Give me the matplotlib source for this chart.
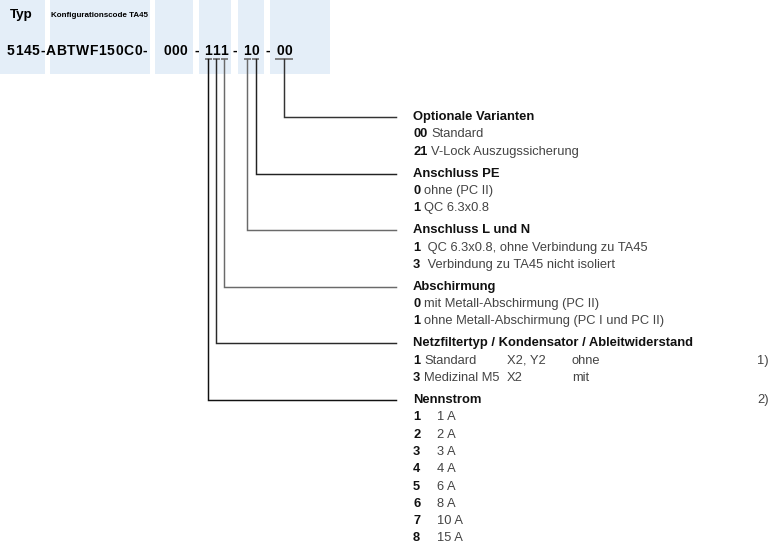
import matplotlib
matplotlib.use("Agg")
import matplotlib.pyplot as plt
from matplotlib.patches import Rectangle

plt.rcParams['font.family'] = ['Liberation Sans', 'DejaVu Sans']

# ---- content ----
type_label = "Typ"
code_label = "Konfigurationscode TA45"
code_prefix = "5145-ABTWF150C0-"
code_groups = ["000", "111", "10", "00"]

headings = [
    "Optionale Varianten",
    "Anschluss PE",
    "Anschluss L und N",
    "Abschirmung",
    "Netzfiltertyp / Kondensator / Ableitwiderstand",
    "Nennstrom",
]
items = [
    [("00", "Standard"), ("21", "V-Lock Auszugssicherung")],
    [("0", "ohne (PC II)"), ("1", "QC 6.3x0.8")],
    [("1", " QC 6.3x0.8, ohne Verbindung zu TA45"), ("3", " Verbindung zu TA45 nicht isoliert")],
    [("0", "mit Metall-Abschirmung (PC II)"), ("1", "ohne Metall-Abschirmung (PC I und PC II)")],
    [("1", "Standard"), ("3", "Medizinal M5")],
    [("1", "1 A"), ("2", "2 A"), ("3", "3 A"), ("4", "4 A"),
     ("5", "6 A"), ("6", "8 A"), ("7", "10 A"), ("8", "15 A")],
]
filter_cap = ["X2, Y2", "X2"]
filter_res = ["ohne", "mit"]
notes = {4: "1)", 5: "2)"}

# which code position each heading points at (group index, digit index / None = whole group)
leader_target = [(3, None), (2, 1), (2, 0), (1, 2), (1, 1), (1, 0)]
leader_colors = ['#333333', '#222222', '#6a6a6a', '#6a6a6a', '#2a2a2a', '#111111']

# ---- layout ----
W, H = 776, 546
fig = plt.figure(figsize=(W / 100, H / 100), dpi=100)
ax = fig.add_axes([0, 0, 1, 1])
ax.set_xlim(0, W)
ax.set_ylim(H, 0)
ax.axis('off')
fig.canvas.draw()
renderer = fig.canvas.get_renderer()
inv = ax.transData.inverted()


def text_width(t):
    bb = t.get_window_extent(renderer)
    return inv.transform((bb.x1, bb.y0))[0] - inv.transform((bb.x0, bb.y0))[0]


def tracked(x, y, s, fs, track):
    """draw string char by char with extra letter spacing, return char centres"""
    centres = []
    for ch in s:
        t = ax.text(x, y, ch, fontsize=fs, fontweight='bold', ha='left', va='center')
        w = text_width(t)
        centres.append(x + w / 2)
        x += w + track
    return centres


box_col = '#e4eef8'
for x0, x1 in [(0, 45), (50, 150), (155, 193), (199, 231), (238, 264), (270, 330)]:
    ax.add_patch(Rectangle((x0, 0), x1 - x0, 74, color=box_col, lw=0, zorder=0))

ax.text(9.5, 15, type_label, fontsize=9.6, fontweight='bold', va='center')
ax.text(51, 15.5, code_label, fontsize=5.8, fontweight='bold', va='center')

code_y = 51
code_fs = 10
tracked(7, code_y, code_prefix, code_fs, 0.6)

group_start = [163, 204.4, 243.6, 276.1]
dash_x = [194.5, 232.5, 266]
digit_x = []
for g, start in zip(code_groups, group_start):
    digit_x.append(tracked(start, code_y, g, code_fs, 0.3))
for x in dash_x:
    ax.text(x, code_y, "-", fontsize=code_fs, fontweight='bold', ha='left', va='center')

ul_y = 59
for gi in (1, 2):
    for x in digit_x[gi]:
        ax.plot([x - 3.6, x + 3.6], [ul_y, ul_y], color='#777777', lw=1.3,
                solid_capstyle='butt')
ax.plot([digit_x[3][0] - 4.5, digit_x[3][-1] + 4.5], [ul_y, ul_y], color='#777777', lw=1.3,
        solid_capstyle='butt')

# ---- descriptions ----
tx = 413
line_h = 17.3
gap = 22
fs = 9.3
head_fs = 9.4
bold_col = '#111111'
reg_col = '#444444'

y = 117
for si, (head, rows) in enumerate(zip(headings, items)):
    ax.text(tx, y, head, fontsize=head_fs, fontweight='bold', color=bold_col, va='center')
    if si in notes:
        ax.text(757, y if si == 5 else y + line_h, notes[si], fontsize=fs, color=reg_col,
                va='center')
    # leader line
    gi, di = leader_target[si]
    if di is None:
        lx = (digit_x[gi][0] + digit_x[gi][-1]) / 2
    else:
        lx = digit_x[gi][di]
    ax.plot([lx, lx, 396], [ul_y, y, y], color=leader_colors[si], lw=1.05,
            solid_joinstyle='miter')

    ry = y
    for ri, (num, desc) in enumerate(rows):
        ry += line_h
        t = ax.text(tx, ry, num, fontsize=fs, fontweight='bold', color=bold_col, va='center')
        if si == 5:
            dx = 437
        else:
            dx = tx + text_width(t) + 4
        ax.text(dx, ry, desc, fontsize=fs, color=reg_col, va='center')
        if si == 4:
            ax.text(507, ry, filter_cap[ri], fontsize=fs, color=reg_col, va='center')
            ax.text(572, ry, filter_res[ri], fontsize=fs, color=reg_col, va='center')
    y = ry + gap

fig.savefig("out.png", dpi=100)
